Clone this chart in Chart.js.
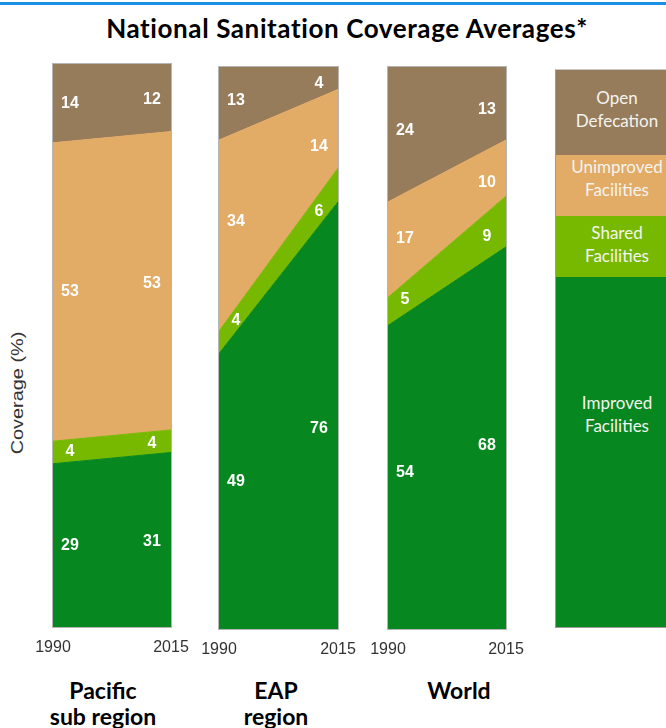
<!DOCTYPE html>
<html><head><meta charset="utf-8">
<script src="https://cdn.jsdelivr.net/npm/chart.js@4.4.0/dist/chart.umd.min.js"></script>
<style>
html,body{margin:0;padding:0;background:#fff;width:666px;height:728px;overflow:hidden;position:relative}
#topline{position:absolute;left:0;top:2px;width:666px;height:3px;background:#1b8fe8}
#title{position:absolute;left:0;width:694px;top:11px;text-align:center;font:bold 26px Lato,sans-serif;letter-spacing:0.6px;color:#000;line-height:34px;white-space:nowrap}
.region{position:absolute;width:200px;text-align:center;font:bold 23px Lato,sans-serif;color:#000;line-height:26px;top:677px}
#ytitle{position:absolute;left:18px;top:393px;width:0;height:0}
#ytitle span{position:absolute;left:0;top:0;transform:translate(-50%,-50%) rotate(-90deg) scaleX(1.17);font:17px "Liberation Sans",Arial,sans-serif;color:#333;white-space:nowrap;display:block}
canvas{position:absolute}
#legend{position:absolute;left:555px;top:69px;width:122px;border-left:1px solid #9a9a9a;border-bottom:1px solid #9a9a9a;border-top:1px solid #c8c8c8}
#legend div{box-sizing:border-box;text-align:center;font:17px Lato,sans-serif;color:#f4f4f0;line-height:23px}
</style></head>
<body>
<div id="topline"></div>
<div id="title">National Sanitation Coverage Averages*</div>
<div id="ytitle"><span>Coverage (%)</span></div>
<div id="legend"></div>
<script>
// ---- data ----
const years = [1990, 2015];
const regions = ['Pacific\nsub region', 'EAP\nregion', 'World'];
const seriesNames = ['Improved Facilities', 'Shared Facilities', 'Unimproved Facilities', 'Open Defecation'];
const improved   = [[29, 31], [49, 76], [54, 68]];
const shared     = [[4, 4],   [4, 6],   [5, 9]];
const unimproved = [[53, 53], [34, 14], [17, 10]];
const openDef    = [[14, 12], [13, 4],  [24, 13]];
const seriesColors = ['#07871f', '#76b900', '#e2ab66', '#977c5b'];

// ---- layout ----
const panels = [
  {left: 53, top: 64, right: 171, bottom: 627, titleX: 103},
  {left: 219, top: 67, right: 338, bottom: 629, titleX: 276},
  {left: 388, top: 67, right: 506, bottom: 629, titleX: 459}
];
const PAD = {left: 30, right: 30, top: 5, bottom: 40};
const seriesValues = [improved, shared, unimproved, openDef];

const panelPlugin = {
  id: 'panelDeco',
  afterDatasetsDraw(chart) {
    const ctx = chart.ctx, a = chart.chartArea;
    const ys = chart.scales.y;
    ctx.save();
    ctx.font = 'bold 16px "Liberation Sans", Arial, sans-serif';
    ctx.fillStyle = '#ffffff';
    ctx.textAlign = 'center';
    ctx.textBaseline = 'middle';
    const labelXs = [a.left + 17, a.right - 19];
    chart.data.datasets.forEach((ds, i) => {
      const pts = chart.getDatasetMeta(i).data;
      const prev = i > 0 ? chart.getDatasetMeta(i - 1).data : null;
      labelXs.forEach((lx, j) => {
        const t = (lx - pts[0].x) / (pts[1].x - pts[0].x);
        const top = pts[0].y + t * (pts[1].y - pts[0].y);
        const bot = prev ? prev[0].y + t * (prev[1].y - prev[0].y) : ys.getPixelForValue(0);
        ctx.fillText(String(ds.data[j].y), lx, (top + bot) / 2 + 1);
      });
    });
    ctx.restore();
  },
  afterDraw(chart) {
    const ctx = chart.ctx, a = chart.chartArea;
    ctx.save();
    ctx.strokeStyle = '#b5b5b5';
    ctx.lineWidth = 1;
    ctx.strokeRect(a.left - 0.5, a.top - 0.5, a.right - a.left + 1, a.bottom - a.top + 1);
    ctx.font = '16px "Liberation Sans", Arial, sans-serif';
    ctx.fillStyle = '#333';
    ctx.textAlign = 'center';
    ctx.textBaseline = 'middle';
    years.forEach(yv => {
      ctx.fillText(String(yv), chart.scales.x.getPixelForValue(yv), a.bottom + 21);
    });
    ctx.restore();
  }
};

panels.forEach((p, k) => {
  const cv = document.createElement('canvas');
  const w = p.right - p.left + PAD.left + PAD.right;
  const h = p.bottom - p.top + PAD.top + PAD.bottom;
  cv.width = w; cv.height = h;
  cv.style.width = w + 'px'; cv.style.height = h + 'px';
  cv.style.left = (p.left - PAD.left) + 'px';
  cv.style.top = (p.top - PAD.top) + 'px';
  document.body.appendChild(cv);
  const datasets = seriesNames.map((name, i) => ({
    label: name,
    data: years.map((yr, j) => ({x: yr, y: seriesValues[i][k][j]})),
    backgroundColor: seriesColors[i],
    borderColor: seriesColors[i],
    borderWidth: 1,
    pointRadius: 0,
    tension: 0,
    fill: i === 0 ? 'origin' : '-1'
  }));
  new Chart(cv, {
    type: 'line',
    data: {datasets},
    options: {
      responsive: false,
      animation: false,
      devicePixelRatio: 1,
      layout: {padding: PAD},
      plugins: {legend: {display: false}, tooltip: {enabled: false}},
      scales: {
        x: {type: 'linear', min: years[0], max: years[years.length - 1], display: false},
        y: {stacked: true, min: 0, max: 100, display: false}
      }
    },
    plugins: [panelPlugin]
  });
  const t = document.createElement('div');
  t.className = 'region';
  t.style.left = (p.titleX - 100) + 'px';
  t.innerHTML = regions[k].split('\n').join('<br>');
  document.body.appendChild(t);
});

// legend column (top to bottom)
const legendHeights = [85, 61, 61, 350];
const legendPadTop = [16, 0, 5, 114];
const legend = document.getElementById('legend');
for (let i = seriesNames.length - 1, r = 0; i >= 0; i--, r++) {
  const d = document.createElement('div');
  d.style.background = seriesColors[i];
  d.style.height = legendHeights[r] + 'px';
  d.style.paddingTop = legendPadTop[r] + 'px';
  d.innerHTML = seriesNames[i].split(' ').join('<br>');
  legend.appendChild(d);
}
</script>
</body></html>
